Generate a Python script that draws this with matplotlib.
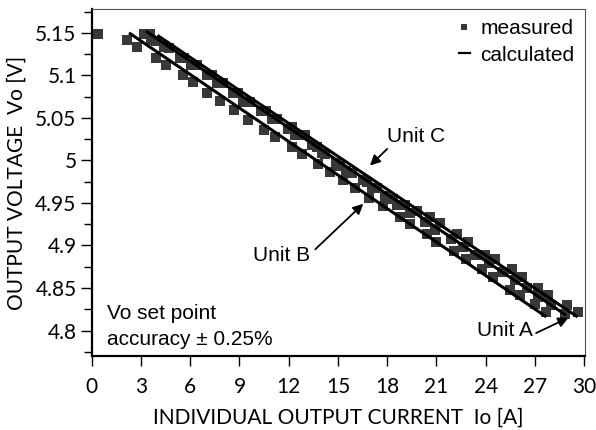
import numpy as np
import matplotlib
matplotlib.use('Agg')
import matplotlib.pyplot as plt

# measured points
unit_b_x = [2.15, 2.76, 3.9, 4.5, 5.53, 6.14, 7.05, 7.8, 8.68, 9.49, 10.5, 11.16,
            12.17, 12.78, 13.8, 14.5, 15.32, 16.04, 16.9, 17.77, 18.78, 19.39, 20.4,
            21.0, 22.1, 22.8, 23.76, 24.47, 25.49, 26.1, 27.0, 27.68]
unit_b_y = [5.141, 5.133, 5.12, 5.112, 5.10, 5.092, 5.079, 5.07, 5.059, 5.048, 5.036, 5.028,
            5.016, 5.008, 4.996, 4.986, 4.977, 4.967, 4.956, 4.946, 4.933, 4.925, 4.913,
            4.904, 4.894, 4.884, 4.872, 4.863, 4.848, 4.842, 4.831, 4.822]

unit_c_x = [3.19, 3.58, 4.39, 5.37, 6.02, 7.0, 7.6, 8.58, 9.23, 10.34, 10.96, 11.97,
            12.38, 13.4, 14.0, 14.9, 15.5, 16.5, 17.1, 17.87, 18.6, 19.4, 20.3, 20.9,
            21.9, 22.6, 23.35, 24.2, 25.0, 25.8, 26.5, 27.2, 28.0, 28.84]
unit_c_y = [5.149, 5.141, 5.133, 5.12, 5.112, 5.10, 5.091, 5.079, 5.069, 5.058, 5.049, 5.037,
            5.03, 5.018, 5.009, 4.997, 4.988, 4.977, 4.968, 4.958, 4.948, 4.938, 4.928, 4.918,
            4.908, 4.898, 4.889, 4.879, 4.869, 4.859, 4.85, 4.84, 4.83, 4.82]

unit_a_x = [0.35, 3.54, 3.94, 4.71, 5.61, 6.44, 7.3, 8.0, 8.9, 9.63, 10.6, 11.3, 12.2,
            12.99, 13.7, 14.2, 15.12, 15.83, 16.75, 17.36, 18.37, 19.08, 19.8, 20.6,
            21.2, 22.24, 22.95, 23.96, 24.57, 25.59, 26.2, 27.2, 27.8, 28.94, 29.6]
unit_a_y = [5.149, 5.149, 5.14, 5.132, 5.12, 5.112, 5.10, 5.091, 5.079, 5.069, 5.058, 5.049, 5.039,
            5.03, 5.016, 5.008, 4.994, 4.985, 4.975, 4.967, 4.955, 4.947, 4.94, 4.933,
            4.926, 4.914, 4.904, 4.889, 4.884, 4.872, 4.863, 4.85, 4.842, 4.83, 4.822]

# calculated lines (end points)
calc_b_x = [2.27, 27.7]
calc_b_y = [5.150, 4.816]
calc_c_x = [3.3, 28.9]
calc_c_y = [5.152, 4.818]
calc_a_x = [4.0, 29.6]
calc_a_y = [5.147, 4.816]

xticks = [0, 3, 6, 9, 12, 15, 18, 21, 24, 27, 30]
yticks = [4.8, 4.85, 4.9, 4.95, 5, 5.05, 5.1, 5.15]
ytick_labels = ['4.8', '4.85', '4.9', '4.95', '5', '5.05', '5.1', '5.15']

tick_font = 'Lato'
txt_font = 'Liberation Sans'
mk_col = '#383838'
fs = 15

fig = plt.figure(figsize=(5.96, 4.30), dpi=100)
ax = fig.add_axes([0.154, 0.172, 0.8275, 0.807])

ms = 6.8
for xs, ys in [(unit_b_x, unit_b_y), (unit_c_x, unit_c_y), (unit_a_x, unit_a_y)]:
    ax.plot(xs, ys, ls='none', marker='s', ms=ms, color=mk_col, mew=0)

for xs, ys in [(calc_b_x, calc_b_y), (calc_c_x, calc_c_y), (calc_a_x, calc_a_y)]:
    ax.plot(xs, ys, color='black', lw=2.2, solid_capstyle='butt')

ax.set_xlim(0, 30.05)
ax.set_ylim(4.77, 5.178)
ax.set_xticks(xticks)
ax.set_yticks(yticks)
ax.set_yticklabels(ytick_labels)
ax.set_yticks(np.arange(4.775, 5.18, 0.05), minor=True)

for lab in ax.get_xticklabels() + ax.get_yticklabels():
    lab.set_fontfamily(tick_font)
    lab.set_fontsize(fs)

ax.tick_params(axis='y', which='major', direction='out', length=8, width=1, pad=3)
ax.tick_params(axis='y', which='minor', direction='out', length=6, width=1)
ax.tick_params(axis='x', which='major', direction='out', length=7, width=1, pad=8)

ax.spines['left'].set_linewidth(1.6)
ax.spines['bottom'].set_linewidth(1.6)
ax.spines['top'].set_linewidth(0.8)
ax.spines['right'].set_linewidth(0.8)
ax.spines['top'].set_color('#555555')
ax.spines['right'].set_color('#555555')

ax.set_xlabel('INDIVIDUAL OUTPUT CURRENT  Io [A]', fontfamily=tick_font, fontsize=fs, labelpad=8)
ax.set_ylabel('OUTPUT VOLTAGE  Vo [V]', fontfamily=tick_font, fontsize=fs, labelpad=6)

# annotations
arw = dict(arrowstyle='-|>', color='black', lw=1.3, mutation_scale=15)
ax.annotate('Unit C', xy=(16.95, 4.994), xytext=(18.0, 5.028), fontfamily=txt_font,
            fontsize=fs, va='center', ha='left', arrowprops=dict(arw, shrinkA=0, shrinkB=0,
            relpos=(0.05, 0.0)))
ax.annotate('Unit B', xy=(16.54, 4.949), xytext=(9.85, 4.888), fontfamily=txt_font,
            fontsize=fs, va='center', ha='left', arrowprops=dict(arw, shrinkA=2, shrinkB=0,
            relpos=(1.0, 0.6)))
ax.annotate('Unit A', xy=(29.04, 4.815), xytext=(23.5, 4.80), fontfamily=txt_font,
            fontsize=fs, va='center', ha='left', arrowprops=dict(arw, shrinkA=0, shrinkB=0,
            relpos=(1.0, 0.3)))

ax.text(0.9, 4.813, 'Vo set point', fontfamily=txt_font, fontsize=fs, va='baseline')
ax.text(0.9, 4.783, 'accuracy \u00b1 0.25%', fontfamily=txt_font, fontsize=fs, va='baseline')

# legend
h_meas, = ax.plot([], [], ls='none', marker='s', ms=5, color=mk_col, mew=0)
h_calc, = ax.plot([], [], color='black', lw=1.6)
leg = ax.legend([h_meas, h_calc], ['measured', 'calculated'], loc='upper right',
                frameon=False, handlelength=0.55, handletextpad=0.5, labelspacing=0.35,
                borderaxespad=0.1, prop={'family': txt_font, 'size': fs})

fig.savefig('out.png', dpi=100)
